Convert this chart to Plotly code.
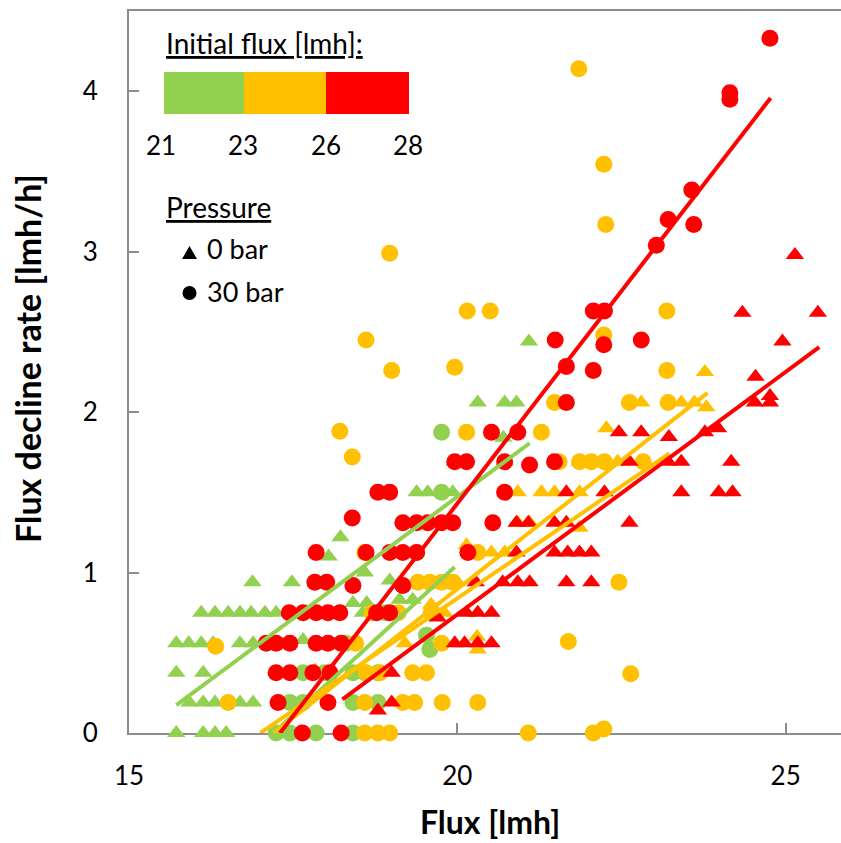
import plotly.graph_objects as go

GREEN = "#92D050"
ORANGE = "#FFC000"
RED = "#FF0000"

# ---- Data: green (initial flux 21-23), 0 bar (triangles)
g0_x = [15.72, 16.13, 16.31, 16.48,
        15.92, 16.13, 16.31, 16.69, 16.89,
        15.72, 16.13,
        15.72, 15.91, 16.10, 16.28, 16.69, 16.89, 17.65,
        16.10, 16.31, 16.51, 16.69, 16.86, 17.07, 17.24, 18.56,
        16.88, 17.48, 18.59, 18.97,
        18.04, 18.22,
        18.41, 18.62, 19.12, 19.32,
        19.20, 19.50,
        19.38, 19.55, 19.93,
        19.96, 20.72, 20.70,
        20.31, 20.72, 20.90, 21.09]
g0_y = [0, 0, 0, 0,
        0.19, 0.19, 0.19, 0.19, 0.19,
        0.375, 0.375,
        0.56, 0.56, 0.56, 0.56, 0.56, 0.56, 0.58,
        0.75, 0.75, 0.75, 0.75, 0.75, 0.75, 0.75, 0.75,
        0.94, 0.94, 1.00, 0.95,
        1.10, 1.22,
        0.81, 0.81, 0.83, 0.83,
        1.31, 1.31,
        1.50, 1.50, 1.50,
        1.69, 1.69, 1.84,
        2.06, 2.06, 2.06, 2.44]

# green, 30 bar (circles)
g30_x = [17.24, 17.45, 17.85, 18.41,
         17.45, 17.65, 18.41, 18.79,
         17.65, 17.98, 18.41, 18.59, 18.79,
         18.30, 19.58, 19.53, 18.90,
         19.38, 19.76, 19.76]
g30_y = [0, 0, 0, 0,
         0.19, 0.19, 0.19, 0.19,
         0.375, 0.375, 0.375, 0.375, 0.375,
         0.56, 0.52, 0.61, 0.75,
         1.125, 1.50, 1.875]

# orange (initial flux 23-26), 0 bar (triangles)
o0_x = [17.83, 20.31, 19.20, 19.60, 19.80, 20.00, 20.30,
        20.14, 20.52, 20.72,
        20.92, 21.10, 21.86,
        20.92, 21.28, 21.48, 21.86,
        21.86, 22.06, 22.44,
        22.27,
        22.80, 23.41, 23.61, 23.79,
        23.77]
o0_y = [0.39, 0.52, 0.56, 0.80, 0.75, 0.94, 0.60,
        1.17, 1.125, 1.125,
        1.31, 1.31, 1.28,
        1.50, 1.50, 1.50, 1.50,
        1.69, 1.69, 1.69,
        1.90,
        2.06, 2.06, 2.06, 2.03,
        2.25]

# orange, 30 bar (circles)
o30_x = [18.59, 18.79, 18.97, 21.08, 22.07, 22.23,
         16.51, 18.59, 19.17, 19.35, 19.77, 20.31,
         18.61, 18.82, 19.32, 19.53, 22.64,
         16.32, 18.45, 19.76, 21.69,
         18.70, 19.10, 19.60,
         19.40, 19.58, 19.76, 19.93, 22.46,
         18.59, 20.31,
         18.40, 21.55, 21.86, 22.04, 22.24, 22.83,
         18.21, 20.14, 21.28,
         21.48, 22.62, 23.21,
         19.00, 19.96, 23.19,
         18.61, 22.23,
         20.15, 20.50, 23.19,
         18.97, 22.26, 22.23, 21.85]
o30_y = [0, 0, 0, 0, 0, 0.025,
         0.19, 0.19, 0.19, 0.19, 0.19, 0.19,
         0.375, 0.375, 0.375, 0.375, 0.37,
         0.54, 0.56, 0.56, 0.57,
         0.75, 0.75, 0.75,
         0.94, 0.94, 0.94, 0.94, 0.94,
         1.125, 1.125,
         1.72, 1.69, 1.69, 1.69, 1.69, 1.69,
         1.88, 1.875, 1.875,
         2.06, 2.06, 2.06,
         2.26, 2.28, 2.26,
         2.45, 2.48,
         2.63, 2.63, 2.63,
         2.99, 3.17, 3.545, 4.14]

# red (initial flux 26-28), 0 bar (triangles)
r0_x = [18.79, 19.00, 19.00,
        19.96, 20.11, 20.31, 20.52,
        19.70, 20.14, 20.31, 20.52,
        20.28, 20.69, 20.92, 21.10, 21.66, 22.04,
        20.90, 21.48, 21.68, 21.86, 22.04,
        20.90, 21.08, 21.48, 21.66, 22.62,
        21.66, 22.24, 23.41, 23.98, 24.19,
        22.62, 23.21, 23.41, 24.17,
        22.46, 22.80, 23.22, 23.77, 23.97,
        24.53, 24.76, 24.76,
        24.54, 24.95, 24.34, 25.49, 25.14]
r0_y = [0.14, 0.19, 0.375,
        0.56, 0.56, 0.56, 0.56,
        0.72, 0.75, 0.75, 0.75,
        0.94, 0.94, 0.94, 0.94, 0.94, 0.94,
        1.125, 1.125, 1.125, 1.125, 1.125,
        1.31, 1.31, 1.31, 1.31, 1.31,
        1.50, 1.50, 1.50, 1.50, 1.50,
        1.69, 1.69, 1.69, 1.69,
        1.875, 1.875, 1.845, 1.875, 1.90,
        2.06, 2.06, 2.10,
        2.22, 2.44, 2.62, 2.62, 2.98]

# red, 30 bar (circles)
r30_x = [17.64, 18.23,
         17.27, 18.03,
         17.24, 17.45, 17.80, 18.06,
         17.09, 17.24, 17.45, 17.85, 18.03, 18.23,
         17.44, 17.65, 17.85, 18.03, 18.21, 18.77, 18.97,
         17.83, 18.01, 18.41, 19.17,
         17.85, 18.61, 18.97, 19.17, 19.38, 20.16,
         18.40, 19.17, 19.38, 19.55, 19.76, 19.93, 20.54,
         18.79, 18.97, 20.72,
         19.96, 20.14, 20.72, 21.10, 21.48,
         20.52, 20.92,
         21.66,
         21.66, 22.07,
         21.49, 22.23, 22.80,
         22.07, 22.24,
         23.03, 23.21, 23.60, 23.57, 24.15, 24.15, 24.76]
r30_y = [0, 0,
         0.19, 0.19,
         0.375, 0.375, 0.375, 0.375,
         0.56, 0.56, 0.56, 0.56, 0.56, 0.56,
         0.75, 0.75, 0.75, 0.75, 0.75, 0.75, 0.75,
         0.94, 0.94, 0.92, 0.92,
         1.125, 1.125, 1.125, 1.125, 1.125, 1.125,
         1.34, 1.31, 1.31, 1.31, 1.31, 1.31, 1.31,
         1.50, 1.50, 1.50,
         1.69, 1.69, 1.69, 1.67, 1.69,
         1.875, 1.875,
         2.06,
         2.285, 2.26,
         2.45, 2.42, 2.45,
         2.63, 2.63,
         3.04, 3.20, 3.17, 3.385, 3.95, 3.99, 4.33]

# ---- Trendlines (end points)
trend_g0_x, trend_g0_y = [15.72, 21.10], [0.174, 1.806]
trend_g30_x, trend_g30_y = [17.20, 19.96], [0.0, 1.035]
trend_o0_x, trend_o0_y = [17.20, 23.81], [0.0, 2.12]
trend_o30_x, trend_o30_y = [17.00, 23.23], [0.0, 1.743]
trend_r0_x, trend_r0_y = [18.25, 25.51], [0.21, 2.405]
trend_r30_x, trend_r30_y = [17.30, 24.77], [0.0, 3.958]

x_ticks = [15, 20, 25]
y_ticks = [0, 1, 2, 3, 4]
legend_cuts = ["21", "23", "26", "28"]

FONT = "Lato"
W, H = 841, 843
ML, MR, MT, MB = 129, 0, 11, 110
PW, PH = W - ML - MR, H - MT - MB


def px(xp):
    return (xp - ML) / PW


def py(yp):
    return (H - MB - yp) / PH


fig = go.Figure()


def add_markers(x, y, color, symbol, size):
    fig.add_trace(go.Scatter(x=x, y=y, mode="markers", cliponaxis=False,
                             marker=dict(color=color, symbol=symbol, size=size,
                                         line=dict(width=0)),
                             showlegend=False, hoverinfo="skip"))


TRI, CIR = 16, 17
add_markers(g0_x, g0_y, GREEN, "triangle-up", TRI)
add_markers(g30_x, g30_y, GREEN, "circle", CIR)
add_markers(o0_x, o0_y, ORANGE, "triangle-up", TRI)
add_markers(o30_x, o30_y, ORANGE, "circle", CIR)
add_markers(r0_x, r0_y, RED, "triangle-up", TRI)
add_markers(r30_x, r30_y, RED, "circle", CIR)

for tx, ty, c in [(trend_g0_x, trend_g0_y, GREEN), (trend_g30_x, trend_g30_y, GREEN),
                  (trend_o0_x, trend_o0_y, ORANGE), (trend_o30_x, trend_o30_y, ORANGE),
                  (trend_r0_x, trend_r0_y, RED), (trend_r30_x, trend_r30_y, RED)]:
    fig.add_trace(go.Scatter(x=tx, y=ty, mode="lines", line=dict(color=c, width=4),
                             showlegend=False, hoverinfo="skip"))

axis_col = "#8c8c8c"
fig.update_layout(
    width=W, height=H,
    margin=dict(l=ML, r=MR, t=MT, b=MB),
    paper_bgcolor="white", plot_bgcolor="white",
    font=dict(family=FONT, size=26, color="black"),
    xaxis=dict(range=[15, 15 + PW / 65.67], tickvals=x_ticks, ticks="inside", ticklen=10,
               tickwidth=2, tickcolor=axis_col, showline=True, linecolor=axis_col,
               linewidth=2, mirror=True, showgrid=False, zeroline=False,
               layer="below traces", ticklabelstandoff=19,
               tickfont=dict(family=FONT, size=26, color="black")),
    yaxis=dict(range=[0, 4.5], tickvals=y_ticks, ticks="inside", ticklen=10,
               tickwidth=2, tickcolor=axis_col, showline=True, linecolor=axis_col,
               linewidth=2, showgrid=False, zeroline=False, layer="below traces",
               ticklabelstandoff=24,
               tickfont=dict(family=FONT, size=26, color="black")),
)

ann = []
ann.append(dict(text="<b>Flux [lmh]</b>", xref="paper", yref="paper", x=px(490), y=py(843),
                xanchor="center", yanchor="bottom", showarrow=False,
                font=dict(family=FONT, size=32, color="black")))
ann.append(dict(text="<b>Flux decline rate [lmh/h]</b>", xref="paper", yref="paper",
                x=px(28), y=py(359), textangle=-90, xanchor="center", yanchor="middle",
                showarrow=False, font=dict(family=FONT, size=34, color="black")))
ann.append(dict(text="<u>Initial flux [lmh]:</u>", xref="paper", yref="paper", x=px(164),
                y=py(43), xanchor="left", yanchor="middle", showarrow=False,
                font=dict(family=FONT, size=28, color="black")))
for lbl, cx in zip(legend_cuts, [160.5, 243, 325.5, 407.5]):
    ann.append(dict(text=lbl, xref="paper", yref="paper", x=px(cx), y=py(145),
                    xanchor="center", yanchor="middle", showarrow=False,
                    font=dict(family=FONT, size=26, color="black")))
ann.append(dict(text="<u>Pressure</u>", xref="paper", yref="paper", x=px(164),
                y=py(207), xanchor="left", yanchor="middle", showarrow=False,
                font=dict(family=FONT, size=28, color="black")))
ann.append(dict(text="0 bar", xref="paper", yref="paper", x=px(205), y=py(249),
                xanchor="left", yanchor="middle", showarrow=False,
                font=dict(family=FONT, size=27, color="black")))
ann.append(dict(text="30 bar", xref="paper", yref="paper", x=px(205), y=py(292),
                xanchor="left", yanchor="middle", showarrow=False,
                font=dict(family=FONT, size=27, color="black")))

shapes = []
for c, x0, x1 in [(GREEN, 164, 244), (ORANGE, 244, 326), (RED, 326, 409)]:
    shapes.append(dict(type="rect", xref="paper", yref="paper", x0=px(x0), x1=px(x1),
                       y0=py(114), y1=py(72), fillcolor=c, line=dict(width=0)))
tri = "M {} {} L {} {} L {} {} Z".format(px(182), py(259), px(197), py(259), px(189.5), py(246))
shapes.append(dict(type="path", xref="paper", yref="paper", path=tri,
                   fillcolor="black", line=dict(width=0)))
shapes.append(dict(type="circle", xref="paper", yref="paper", x0=px(182.5), x1=px(196.5),
                   y0=py(300), y1=py(286), fillcolor="black", line=dict(width=0)))

fig.update_layout(annotations=ann, shapes=shapes)
fig.write_html("out.html")
